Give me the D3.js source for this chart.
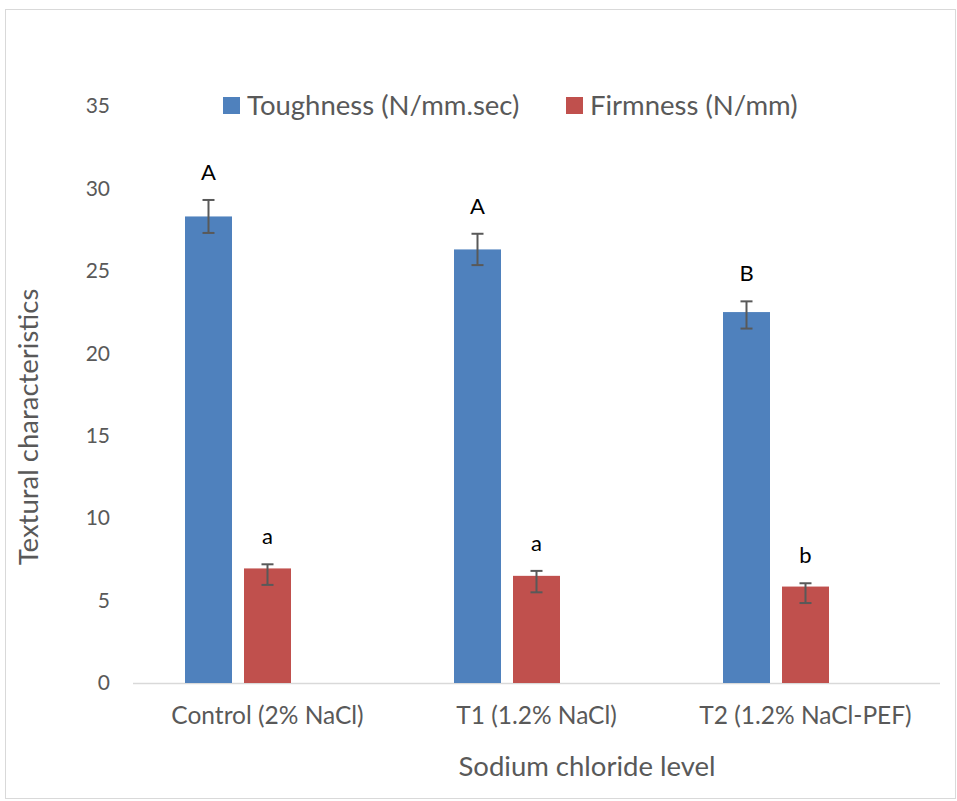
<!DOCTYPE html>
<html><head><meta charset="utf-8">
<script src="https://cdn.jsdelivr.net/npm/d3@7"></script>
<style>body{margin:0;background:#fff}svg{display:block}</style>
</head><body><svg id="c" width="957" height="801"></svg>
<script>
const categories = ["Control (2% NaCl)", "T1 (1.2% NaCl)", "T2 (1.2% NaCl-PEF)"];
const seriesNames = ["Toughness (N/mm.sec)", "Firmness (N/mm)"];
const toughness = [28.3, 26.3, 22.5];
const firmness = [6.95, 6.5, 5.85];
const toughnessErrUp = [1.0, 0.95, 0.65];
const toughnessErrDown = [1.0, 0.95, 1.0];
const firmnessErrUp = [0.25, 0.3, 0.2];
const firmnessErrDown = [1.0, 1.0, 1.0];
const toughnessLetters = ["A", "A", "B"];
const firmnessLetters = ["a", "a", "b"];
const yTicks = [0, 5, 10, 15, 20, 25, 30, 35];
const colors = ["#4F81BD", "#C0504D"];

const series = [
  {name: seriesNames[0], vals: toughness, up: toughnessErrUp, down: toughnessErrDown, letters: toughnessLetters, color: colors[0]},
  {name: seriesNames[1], vals: firmness, up: firmnessErrUp, down: firmnessErrDown, letters: firmnessLetters, color: colors[1]}
];

const svg = d3.select("#c");
const font = "Lato, 'Open Sans', sans-serif";
svg.append("rect").attr("x",5.5).attr("y",9.5).attr("width",950).attr("height",789)
  .attr("fill","#fff").attr("stroke","#d9d9d9");

const plot = {l:133, r:940, t:106, b:683};
const x = d3.scaleBand().domain(categories).range([plot.l, plot.r]).paddingInner(0).paddingOuter(0);
// third slot is an empty spacer slot (as in the original cluster layout)
const xs = d3.scaleBand().domain([0,1,2]).range([52, x.bandwidth()-52]).paddingInner(12/59).paddingOuter(0);
const y = d3.scaleLinear().domain([0,35]).range([plot.b, plot.t]);

// y tick labels
svg.append("g").selectAll("text").data(yTicks).join("text")
  .attr("x",110).attr("y",d=>y(d)).attr("dy","0.35em").attr("text-anchor","end")
  .attr("font-family",font).attr("font-size",21).attr("fill","#595959").text(d=>d);

// x axis line
svg.append("line").attr("x1",plot.l).attr("x2",plot.r).attr("y1",plot.b+0.5).attr("y2",plot.b+0.5)
  .attr("stroke","#d9d9d9").attr("stroke-width",1.5);

series.forEach((s,si)=>{
  const g = svg.append("g");
  g.selectAll("rect").data(categories).join("rect")
    .attr("x",(c)=>x(c)+xs(si)).attr("width",xs.bandwidth())
    .attr("y",(c,i)=>y(s.vals[i])).attr("height",(c,i)=>y(0)-y(s.vals[i]))
    .attr("fill",s.color);
  categories.forEach((c,i)=>{
    const cx = x(c)+xs(si)+xs.bandwidth()/2;
    const yt = y(s.vals[i]+s.up[i]), yb = y(s.vals[i]-s.down[i]);
    const eb = g.append("g").attr("stroke","#595959").attr("stroke-width",2);
    eb.append("line").attr("x1",cx).attr("x2",cx).attr("y1",yt).attr("y2",yb);
    eb.append("line").attr("x1",cx-6).attr("x2",cx+6).attr("y1",yt).attr("y2",yt);
    eb.append("line").attr("x1",cx-6).attr("x2",cx+6).attr("y1",yb).attr("y2",yb);
    g.append("text").attr("x",cx).attr("y",yt-20).attr("text-anchor","middle")
      .attr("font-family",font).attr("font-size",22).attr("fill","#000").text(s.letters[i]);
  });
});

// category labels
svg.append("g").selectAll("text").data(categories).join("text")
  .attr("x",d=>x(d)+x.bandwidth()/2).attr("y",724).attr("text-anchor","middle")
  .attr("font-family",font).attr("font-size",24.5).attr("fill","#595959").text(d=>d);

// axis titles
svg.append("text").attr("x",587).attr("y",776).attr("text-anchor","middle")
  .attr("font-family",font).attr("font-size",27.5).attr("fill","#595959").text("Sodium chloride level");
svg.append("text").attr("transform","translate(38,427) rotate(-90)").attr("text-anchor","middle")
  .attr("font-family",font).attr("font-size",27.5).attr("fill","#595959").text("Textural characteristics");

// legend
const legX = [223, 566];
series.forEach((s,si)=>{
  svg.append("rect").attr("x",legX[si]).attr("y",97).attr("width",17).attr("height",17).attr("fill",s.color);
  svg.append("text").attr("x",legX[si]+24).attr("y",105.5).attr("dy","0.35em")
    .attr("font-family",font).attr("font-size",27.5).attr("fill","#595959").text(s.name);
});
</script></body></html>
